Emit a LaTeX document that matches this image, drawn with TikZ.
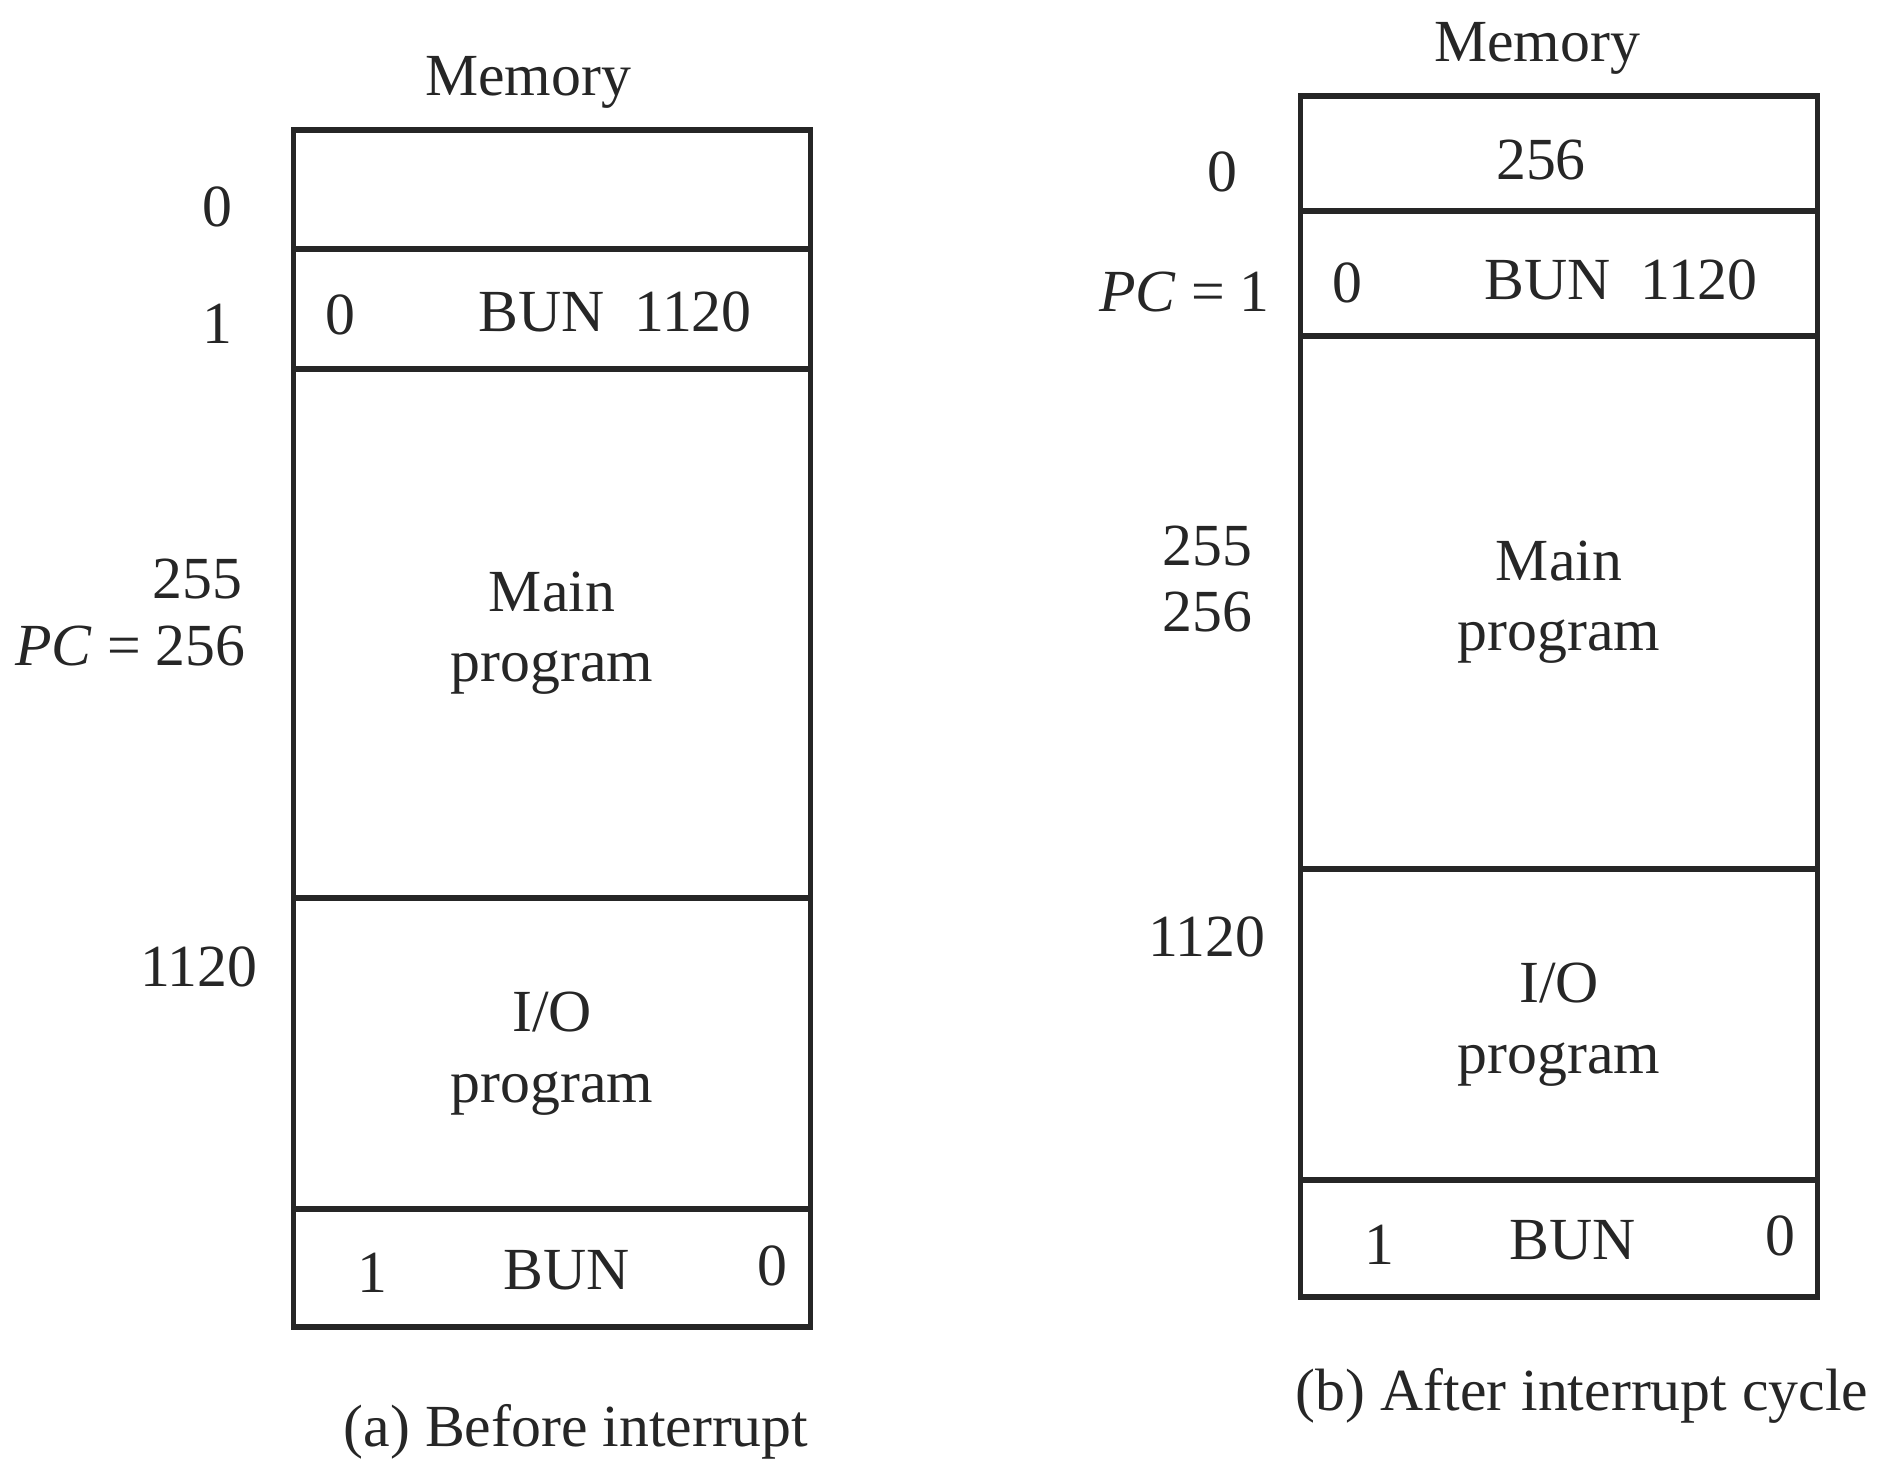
\documentclass[tikz,border=0pt]{standalone}
\usepackage{fontspec}
\setmainfont{Liberation Serif}
\usetikzlibrary{positioning}

\begin{document}
\begin{tikzpicture}[x=1cm,y=-1cm]
  % Styles for memory words
  \tikzset{memcell/.style={draw=black!85, line width=1.6pt, minimum width=5.17cm, inner sep=0pt}}
  \tikzset{memtext/.style={font=\fontsize{17}{20}\selectfont, text=black!85, align=center}}
  \tikzset{addr/.style={memtext, anchor=east}}
  \useasboundingbox (0,0) rectangle (18.83,14.63);

  % (a) Before interrupt
  \node[memtext] (memA) at (5.28, 0.82) {Memory};
  \node[memcell, minimum height=1.19cm] (a0) at (5.52, 1.895) {};
  \node[memcell, minimum height=1.20cm] (a1) at (5.52, 3.09) {};
  \node[memcell, minimum height=5.29cm] (amain) at (5.52, 6.335) {};
  \node[memcell, minimum height=3.11cm] (aio) at (5.52, 10.535) {};
  \node[memcell, minimum height=1.18cm] (aret) at (5.52, 12.68) {};

  \node[memtext] at (3.40, 3.15) {0};
  \node[memtext] at (6.15, 3.12) {BUN\enspace1120};
  \node[memtext] at (amain) {Main\\program};
  \node[memtext] at (aio) {I/O\\program};
  \node[memtext] at (3.72, 12.73) {1};
  \node[memtext] at (5.67, 12.70) {BUN};
  \node[memtext] at (7.72, 12.66) {0};

  \node[addr] at (2.45, 2.07) {0};
  \node[addr] at (2.45, 3.24) {1};
  \node[addr] at (2.55, 5.79) {255};
  \node[addr] at (2.58, 6.46) {\textit{PC} = 256};
  \node[addr] at (2.70, 9.67) {1120};
  \node[memtext] (capA) at (5.76, 14.32) {(a) Before interrupt};

  % (b) After interrupt cycle
  \node[memtext] (memB) at (15.37, 0.48) {Memory};
  \node[memcell, minimum height=1.15cm] (b0) at (15.59, 1.535) {};
  \node[memcell, minimum height=1.25cm] (b1) at (15.59, 2.735) {};
  \node[memcell, minimum height=5.33cm] (bmain) at (15.59, 6.025) {};
  \node[memcell, minimum height=3.11cm] (bio) at (15.59, 10.245) {};
  \node[memcell, minimum height=1.17cm] (bret) at (15.59, 12.385) {};

  \node[memtext] at (15.41, 1.60) {256};
  \node[memtext] at (13.47, 2.83) {0};
  \node[memtext] at (16.21, 2.80) {BUN\enspace1120};
  \node[memtext] at (bmain) {Main\\program};
  \node[memtext] at (bio) {I/O\\program};
  \node[memtext] at (13.79, 12.45) {1};
  \node[memtext] at (15.73, 12.40) {BUN};
  \node[memtext] at (17.80, 12.36) {0};

  \node[addr] at (12.50, 1.72) {0};
  \node[addr] at (12.82, 2.92) {\textit{PC} = 1};
  \node[addr] at (12.65, 5.46) {255};
  \node[addr] at (12.65, 6.12) {256};
  \node[addr] at (12.78, 9.37) {1120};
  \node[memtext] (capB) at (15.82, 13.96) {(b) After interrupt cycle};
\end{tikzpicture}
\end{document}
